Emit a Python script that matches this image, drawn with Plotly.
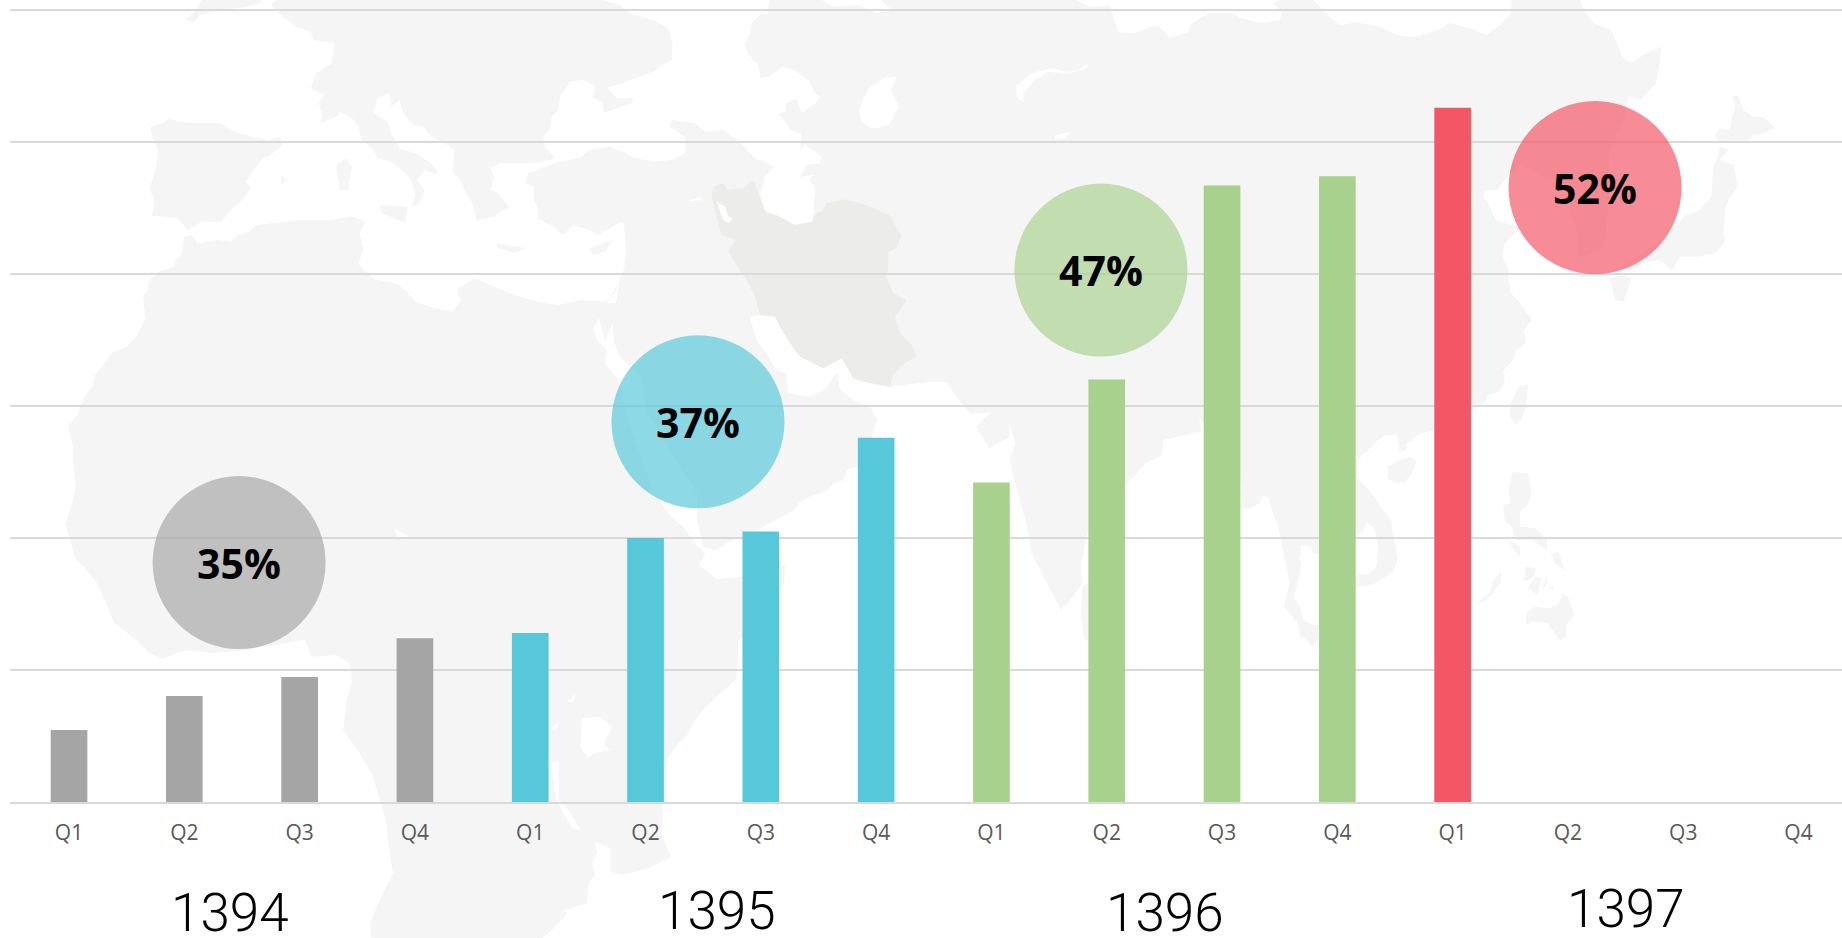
import plotly.graph_objects as go

W, H = 1842, 938

# ---- chart data ----
quarters = ["Q1", "Q2", "Q3", "Q4"] * 4
values = [5.45, 8.03, 9.47, 12.4, 12.8, 20.0, 20.5, 27.6, 24.2, 32.0, 46.7, 47.4, 52.6]
groups = ["1394"] * 4 + ["1395"] * 4 + ["1396"] * 4 + ["1397"]
group_colors = {"1394": "#a5a5a5", "1395": "#57c7da", "1396": "#a9d18e", "1397": "#f35664"}
years = ["1394", "1395", "1396", "1397"]
shares = ["35%", "37%", "47%", "52%"]
share_x = [1.475, 5.455, 8.95, 13.235]
share_y = [18.14, 28.8, 40.3, 46.55]
share_colors = ["rgba(166,166,166,0.68)", "rgba(87,199,218,0.68)",
                "rgba(169,209,142,0.68)", "rgba(243,86,100,0.68)"]

# ---- decorative background map, traced in screen pixels of crops ----
def fr(x0, y0, sx, sy, pts):
    return [(x0 + a / sx, y0 + b / sy) for a, b in pts]

Z4 = (0, 0, 2.529, 3)
Z5 = (620, 0, 2.529, 3)
Z6 = (0, 320, 2.529, 3)
Z7 = (620, 320, 2.529, 3)
Z1 = (0, 640, 2.529, 3)
Z9 = (330, 640, 3.015, 3)
Z10 = (520, 0, 3, 3)
Z3 = (600, 100, 3, 3)
Z8 = (1240, 320, 2.605, 3)
Z2 = (1300, 0, 2.893, 3)

africa = (
    fr(*Z4, [(465,710),(485,705),(500,730),(550,720),(585,725),(600,705),(630,695),(650,675),(700,668),(760,660),(830,660),(890,650),(925,665),(910,700),(920,750),(905,790),(925,815),(950,840),(1000,850),(1025,870),(1050,905),(1100,925),(1145,935),(1165,900),(1155,870),(1200,835),(1240,855),(1300,885),(1360,905),(1410,915),(1470,900),(1530,905),(1555,880),(1568,840)])
    + fr(*Z6, [(1500,25),(1510,60),(1535,90),(1530,130),(1560,175),(1568,190)])
    + fr(*Z7, [(20,300),(50,400),(80,500),(110,560),(130,590),(160,620),(190,670),(215,700),(200,735),(245,778),(300,770),(360,755),(418,735),(415,790),(380,870),(330,930),(300,960)])
    + fr(*Z9, [(1225,115),(1190,150),(1160,175),(1130,205),(1100,240),(1075,290),(1050,310),(1030,340),(1000,380),(1000,490),(1005,510),(1000,590),(1030,650),(960,685),(880,705),(845,695),(845,625),(800,605),(805,640),(790,670),(800,705),(780,730),(775,790),(705,810),(715,820),(680,860),(640,895),(125,895),(120,850),(150,780),(170,740),(190,700),(180,640),(170,550),(150,480),(130,410),(90,340),(40,270),(50,180),(65,130),(60,70)])
    + fr(*Z1, [(850,45),(790,50),(770,0),(720,10),(620,30),(540,40),(470,30),(410,58),(375,35),(345,0)])
    + fr(*Z6, [(290,910),(265,840),(245,790),(215,745),(190,715),(180,670),(165,610),(183,550),(192,500),(185,430),(185,380),(172,320),(195,285),(210,240),(235,195),(240,165),(265,130),(280,100),(320,80),(345,50),(365,0)])
    + fr(*Z4, [(368,960),(362,885),(375,870),(375,845),(400,815),(440,800),(445,780),(460,760)])
)

sinai = fr(*Z6, [(1505,-50),(1568,-50),(1548,15),(1530,62)])

europe = (
    fr(*Z4, [(700,0),(685,15),(720,55),(750,80),(785,95),(795,120),(845,130),(840,190),(800,220),(785,265),(820,285),(805,310),(815,345),(810,370),(850,350),(860,335),(890,355),(905,375),(915,420),(945,450),(955,475),(990,485),(1015,510),(1040,540),(1050,585),(1040,625),(1060,610),(1075,575),(1055,540),(1075,510),(1105,525),(1105,510),(1090,490),(1050,460),(1010,445),(990,400),(980,365),(945,340),(955,295),(985,280),(990,320),(1010,300),(1020,340),(1045,375),(1070,380),(1090,410),(1125,430),(1150,450),(1145,515),(1165,540),(1175,570),(1195,610),(1205,660),(1250,650),(1270,630),(1290,625),(1260,580),(1240,570),(1250,530),(1240,505),(1265,490),(1325,490),(1370,487),(1405,475)])
    + fr(*Z10, [(75,440),(70,410),(90,385),(95,350),(115,330),(120,290),(150,245),(190,240),(225,258),(218,295),(248,305),(250,338),(335,310),(340,295),(290,295),(260,262),(290,255),(330,240),(400,215),(420,200),(455,180),(458,130),(445,85),(400,60),(325,40),(300,15),(250,0)])
)

iberia = fr(*Z4, [(380,380),(410,370),(430,355),(450,365),(500,370),(555,368),(590,395),(640,410),(680,420),(710,410),(715,435),(690,460),(665,475),(640,510),(622,545),(635,565),(605,610),(575,640),(560,665),(510,665),(475,690),(450,655),(415,650),(385,648),(390,600),(378,565),(395,505),(400,450),(385,410)])
britain = fr(*Z4, [(510,0),(490,40),(468,58),(490,68),(505,45),(535,35),(570,28),(620,22),(660,10),(660,0)])
sardinia = fr(*Z4, [(850,495),(875,475),(890,500),(880,570),(860,570)])
sicily = fr(*Z4, [(960,615),(1030,620),(1025,670),(985,650),(965,640)])
crete = fr(*Z4, [(1255,730),(1330,745),(1300,758),(1260,745)])
cyprus = fr(*Z4, [(1490,745),(1550,720),(1530,755),(1500,765)])
balearic = fr(*Z4, [(710,525),(725,540),(712,555)])

asia = (
    [(770, 0)]
    + fr(*Z10, [(745,20),(745,40),(720,45),(695,70),(690,100),(672,135),(690,170),(715,195),(722,235),(745,230),(790,200),(830,215),(865,240),(885,280),(900,290)])
    + fr(*Z5, [(495,310),(460,340),(445,295),(420,310),(420,335),(400,340),(420,370),(430,390),(460,400),(455,450),(470,435),(510,470),(505,490),(470,495),(465,510),(455,530),(490,525),(480,540),(495,570),(490,610),(490,665),(440,675),(400,650),(370,635),(355,590),(365,530),(390,500),(360,480),(345,480),(310,435),(290,415),(260,390),(215,395),(190,370),(130,360),(125,380),(165,410),(165,460),(130,480),(85,485),(30,470),(0,450)])
    + fr(*Z4, [(1540,440),(1490,450),(1470,470),(1440,480),(1410,487),(1380,500),(1335,520),(1330,550),(1350,560),(1350,600),(1360,620),(1360,655),(1400,680),(1425,705),(1450,675),(1490,690),(1510,705),(1550,680)])
    + fr(*Z5, [(0,665),(10,670),(15,760),(10,810),(0,830)])
    + fr(*Z6, [(1550,15),(1553,70)])
    + fr(*Z7, [(0,110),(50,170),(70,280),(130,400),(195,520),(195,600),(210,680),(240,692),(270,670),(330,640),(380,610),(440,570),(455,545),(480,530),(520,515),(540,490),(565,480),(575,450),(610,430),(640,340),(650,300),(635,265),(590,240),(555,205),(550,155),(520,205),(480,230),(425,220),(420,160),(395,150),(370,100),(345,60),(330,0)])
    + fr(*Z3, [(450,650),(480,645),(525,650),(540,680),(570,730),(600,770),(670,805),(725,775),(760,835)])
    + fr(*Z7, [(590,180),(680,200),(790,185),(825,185),(860,245),(885,280),(930,280),(940,275),(900,320),(935,385),(985,350),(985,310),(1000,370),(985,420),(1005,520),(1030,620),(1040,700),(1080,790),(1115,870),(1135,845),(1170,790),(1165,740),(1185,620),(1280,490),(1300,470),(1330,430),(1370,405),(1375,360),(1430,345),(1470,335),(1465,290)])
    + fr(*Z8, [(0,470),(5,500),(0,565),(30,565),(50,550),(60,525),(75,535),(85,580),(100,620),(110,680),(120,730),(130,790),(120,830),(115,860),(150,910),(160,960)])
    + [(1303, 637), (1313, 647), (1318, 640)]
    + fr(*Z8, [(205,915),(190,915),(165,900),(155,860),(140,830),(150,790),(160,730),(155,720),(160,675),(185,680),(190,700),(205,700),(320,635),(330,605),(350,625),(360,680),(355,740),(330,765),(305,760),(302,800),(345,795),(365,780),(400,755),(410,720),(405,680),(395,630),(395,605),(375,575),(350,530),(305,470),(305,420),(340,385),(360,360),(380,345),(410,345),(415,395),(435,390),(430,375),(470,340),(505,330),(602,270),(640,245),(645,225),(675,215),(690,185),(685,155),(710,120),(720,90),(745,70),(740,30),(760,0)])
    + fr(*Z2, [(630,900),(610,880),(600,800),(585,770),(590,735),(610,710),(640,685),(565,660),(550,620),(530,590),(535,570),(570,570),(600,530),(640,490),(700,530),(790,560),(780,640),(800,680),(800,780),(880,740),(890,650),(895,450),(940,350),(950,290),(985,300),(1030,250),(1040,190),(1045,140),(1000,160),(960,190),(930,170),(925,150),(900,90),(850,70),(820,30),(810,0)])
    + [(1511,0),(1511,13),(1500,25),(1487,35),(1469,28),(1449,23),(1438,30),(1414,37),(1397,35),(1380,27),(1357,22),(1340,25),(1330,17),(1313,0),(1280,0),(1273,3),(1282,12),(1280,20),(1260,23),(1240,18),(1233,13),(1210,13),(1192,23),(1188,32),(1170,38),(1158,25),(1134,33),(1118,32),(1110,6),(1090,7),(1075,0),(881,0),(892,10),(877,13),(857,5),(834,7),(822,0)]
)

hainan = fr(*Z8, [(385,440),(405,425),(445,410),(460,425),(445,465),(430,485),(405,490),(385,475)])
taiwan = fr(*Z8, [(730,195),(750,195),(745,260),(735,295),(720,315),(703,290),(705,250),(720,215)])
luzon = fr(*Z8, [(710,455),(750,460),(760,525),(745,560),(730,570),(730,620),(770,625),(800,660),(800,690),(760,660),(715,660),(710,620),(690,605),(685,555),(705,550),(700,510)])
mindoro = fr(*Z8, [(700,660),(730,680),(730,710),(712,690)])
palawan = fr(*Z8, [(610,855),(650,820),(660,780),(680,755),(680,785),(655,825),(635,845)])
panay = fr(*Z8, [(745,740),(770,745),(765,770),(740,785)])
negros = fr(*Z8, [(770,770),(785,775),(775,825),(750,805)])
samar = fr(*Z8, [(810,700),(830,695),(845,750),(820,730)])
leyte = fr(*Z8, [(800,760),(800,790),(785,815)])
bohol = fr(*Z8, [(800,800),(820,800),(815,810)])
mindanao = fr(*Z8, [(745,880),(765,860),(810,865),(830,850),(840,825),(855,830),(870,885),(850,915),(850,950),(835,960)]) + [(1574,645),(1560,640)] + fr(*Z8, [(800,910),(760,905),(745,915)])
hokkaido = fr(*Z2, [(1250,290),(1265,285),(1285,330),(1310,350),(1340,350),(1375,385),(1340,400),(1310,405),(1290,430),(1250,430),(1215,425),(1200,410),(1215,385),(1245,390),(1250,350),(1260,320)])
honshu = fr(*Z2, [(1215,440),(1240,450),(1215,480),(1255,495),(1265,560),(1240,600),(1230,620),(1225,700),(1230,725),(1200,760),(1150,770),(1100,770),(1075,810),(1040,780),(990,790),(950,815),(925,800),(1000,750),(1050,730),(1085,680),(1115,645),(1150,635),(1190,590),(1195,500),(1210,470)])
kyushu = fr(*Z2, [(895,835),(935,825),(960,835),(935,905),(910,900),(905,865)])
sri_lanka = fr(*Z7, [(1170,800),(1185,790),(1185,960),(1175,960),(1165,880)])

iran = fr(*Z3, [(340,260),(370,250),(385,270),(430,265),(460,240),(480,290),(495,335),(530,345),(585,375),(635,365),(645,340),(665,335),(680,310),(735,298),(800,315),(870,345),(885,375),(905,405),(890,445),(865,455),(865,500),(860,530),(880,580),(920,600),(885,650),(900,700),(935,735),(950,770),(905,795),(878,830),(870,860),(815,850),(760,835),(725,775),(670,805),(600,770),(570,730),(540,680),(525,650),(480,645),(465,590),(435,530),(400,480),(385,450),(410,420),(365,405),(350,350),(335,290)])

# inland water, drawn over the land in white
baikal = fr(*Z5, [(1000,260),(1040,220),(1090,205),(1130,215),(1160,210),(1185,190),(1180,205),(1130,222),(1085,215),(1050,240),(1020,280),(1020,305),(1005,295)])
aral = fr(*Z5, [(605,330),(625,270),(665,235),(700,230),(685,270),(705,320),(680,375),(650,385),(635,385),(610,365)])
balkhash = fr(*Z5, [(1100,405),(1140,395),(1125,415),(1100,418)])
urmia = fr(*Z3, [(350,305),(375,320),(385,350),(400,355),(385,370),(370,360)])
van = fr(*Z5, [(175,600),(205,590),(210,600),(178,603)])
victoria = fr(*Z9, [(760,235),(815,230),(850,260),(825,315),(845,330),(800,340),(775,355),(755,320)])
tanganyika = fr(*Z9, [(668,365),(690,365),(690,480),(720,510),(755,570),(730,565),(680,480)])
albert = fr(*Z9, [(715,185),(740,160),(735,185)])
kivu = fr(*Z9, [(668,265),(690,245),(685,270)])
chad = fr(*Z6, [(995,625),(1035,650),(1005,650)])


def svg(points):
    return "M" + " L".join(f"{x / W:.5f},{1 - y / H:.5f}" for x, y in points) + " Z"


land = [africa, sinai, europe, iberia, britain, sardinia, sicily, crete, cyprus, balearic, asia,
        hainan, taiwan, luzon, mindoro, palawan, panay, negros, samar, leyte, bohol, mindanao,
        hokkaido, honshu, kyushu, sri_lanka]
water = [baikal, aral, balkhash, urmia, van, victoria, tanganyika, albert, kivu, chad]

shapes = []
for poly in land:
    shapes.append(dict(type="path", path=svg(poly), xref="paper", yref="paper",
                       fillcolor="#f5f5f5", line=dict(width=0), layer="below"))
shapes.append(dict(type="path", path=svg(iran), xref="paper", yref="paper",
                   fillcolor="#ececeb", line=dict(width=0), layer="below"))
for poly in water:
    shapes.append(dict(type="path", path=svg(poly), xref="paper", yref="paper",
                       fillcolor="#ffffff", line=dict(width=0), layer="below"))

# ---- figure ----
fig = go.Figure()
fig.add_trace(go.Bar(
    x=list(range(len(values))), y=values, width=0.318,
    marker=dict(color=[group_colors[g] for g in groups], line=dict(width=0)),
    hoverinfo="skip", showlegend=False,
))
fig.add_trace(go.Scatter(
    x=share_x, y=share_y, mode="markers",
    marker=dict(size=173, color=share_colors, line=dict(width=0)),
    cliponaxis=False, hoverinfo="skip", showlegend=False,
))

x_year = [230, 717, 1165, 1626]
y_year = [913, 911, 913, 909]
annotations = [dict(text=t, x=a / W, y=1 - b / H, xref="paper", yref="paper", showarrow=False,
                    xanchor="center", yanchor="middle",
                    font=dict(family="Roboto", size=53, color="#000000", weight=300))
               for t, a, b in zip(years, x_year, y_year)]
annotations += [dict(text=t, x=a, y=b, xref="x", yref="y", showarrow=False,
                     xanchor="center", yanchor="middle", yshift=0,
                     font=dict(family="Open Sans", size=41, color="#000000", weight="bold"))
                for t, a, b in zip(shares, share_x, share_y)]

fig.update_layout(
    width=W, height=H, margin=dict(l=0, r=0, t=0, b=0), autosize=False,
    paper_bgcolor="#ffffff", plot_bgcolor="rgba(0,0,0,0)",
    shapes=shapes, annotations=annotations,
    xaxis=dict(domain=[10 / W, 1], range=[-0.512, 15.377], tickmode="array",
               tickvals=list(range(16)), ticktext=quarters, showgrid=False, zeroline=False,
               showline=True, linecolor="#d9d9d9", linewidth=2,
               ticks="outside", ticklen=11, tickcolor="rgba(0,0,0,0)",
               tickfont=dict(family="Open Sans", size=21, color="#595959")),
    yaxis=dict(domain=[136 / H, (H - 7.4) / H], range=[0, 60.2], dtick=10, showticklabels=False,
               showgrid=True, gridcolor="#d9d9d9", gridwidth=1.5, zeroline=False, showline=False),
)

fig.write_html("out.html", config=dict(displayModeBar=False),
               post_script="document.body.style.margin='0';document.documentElement.style.overflow='hidden';")
